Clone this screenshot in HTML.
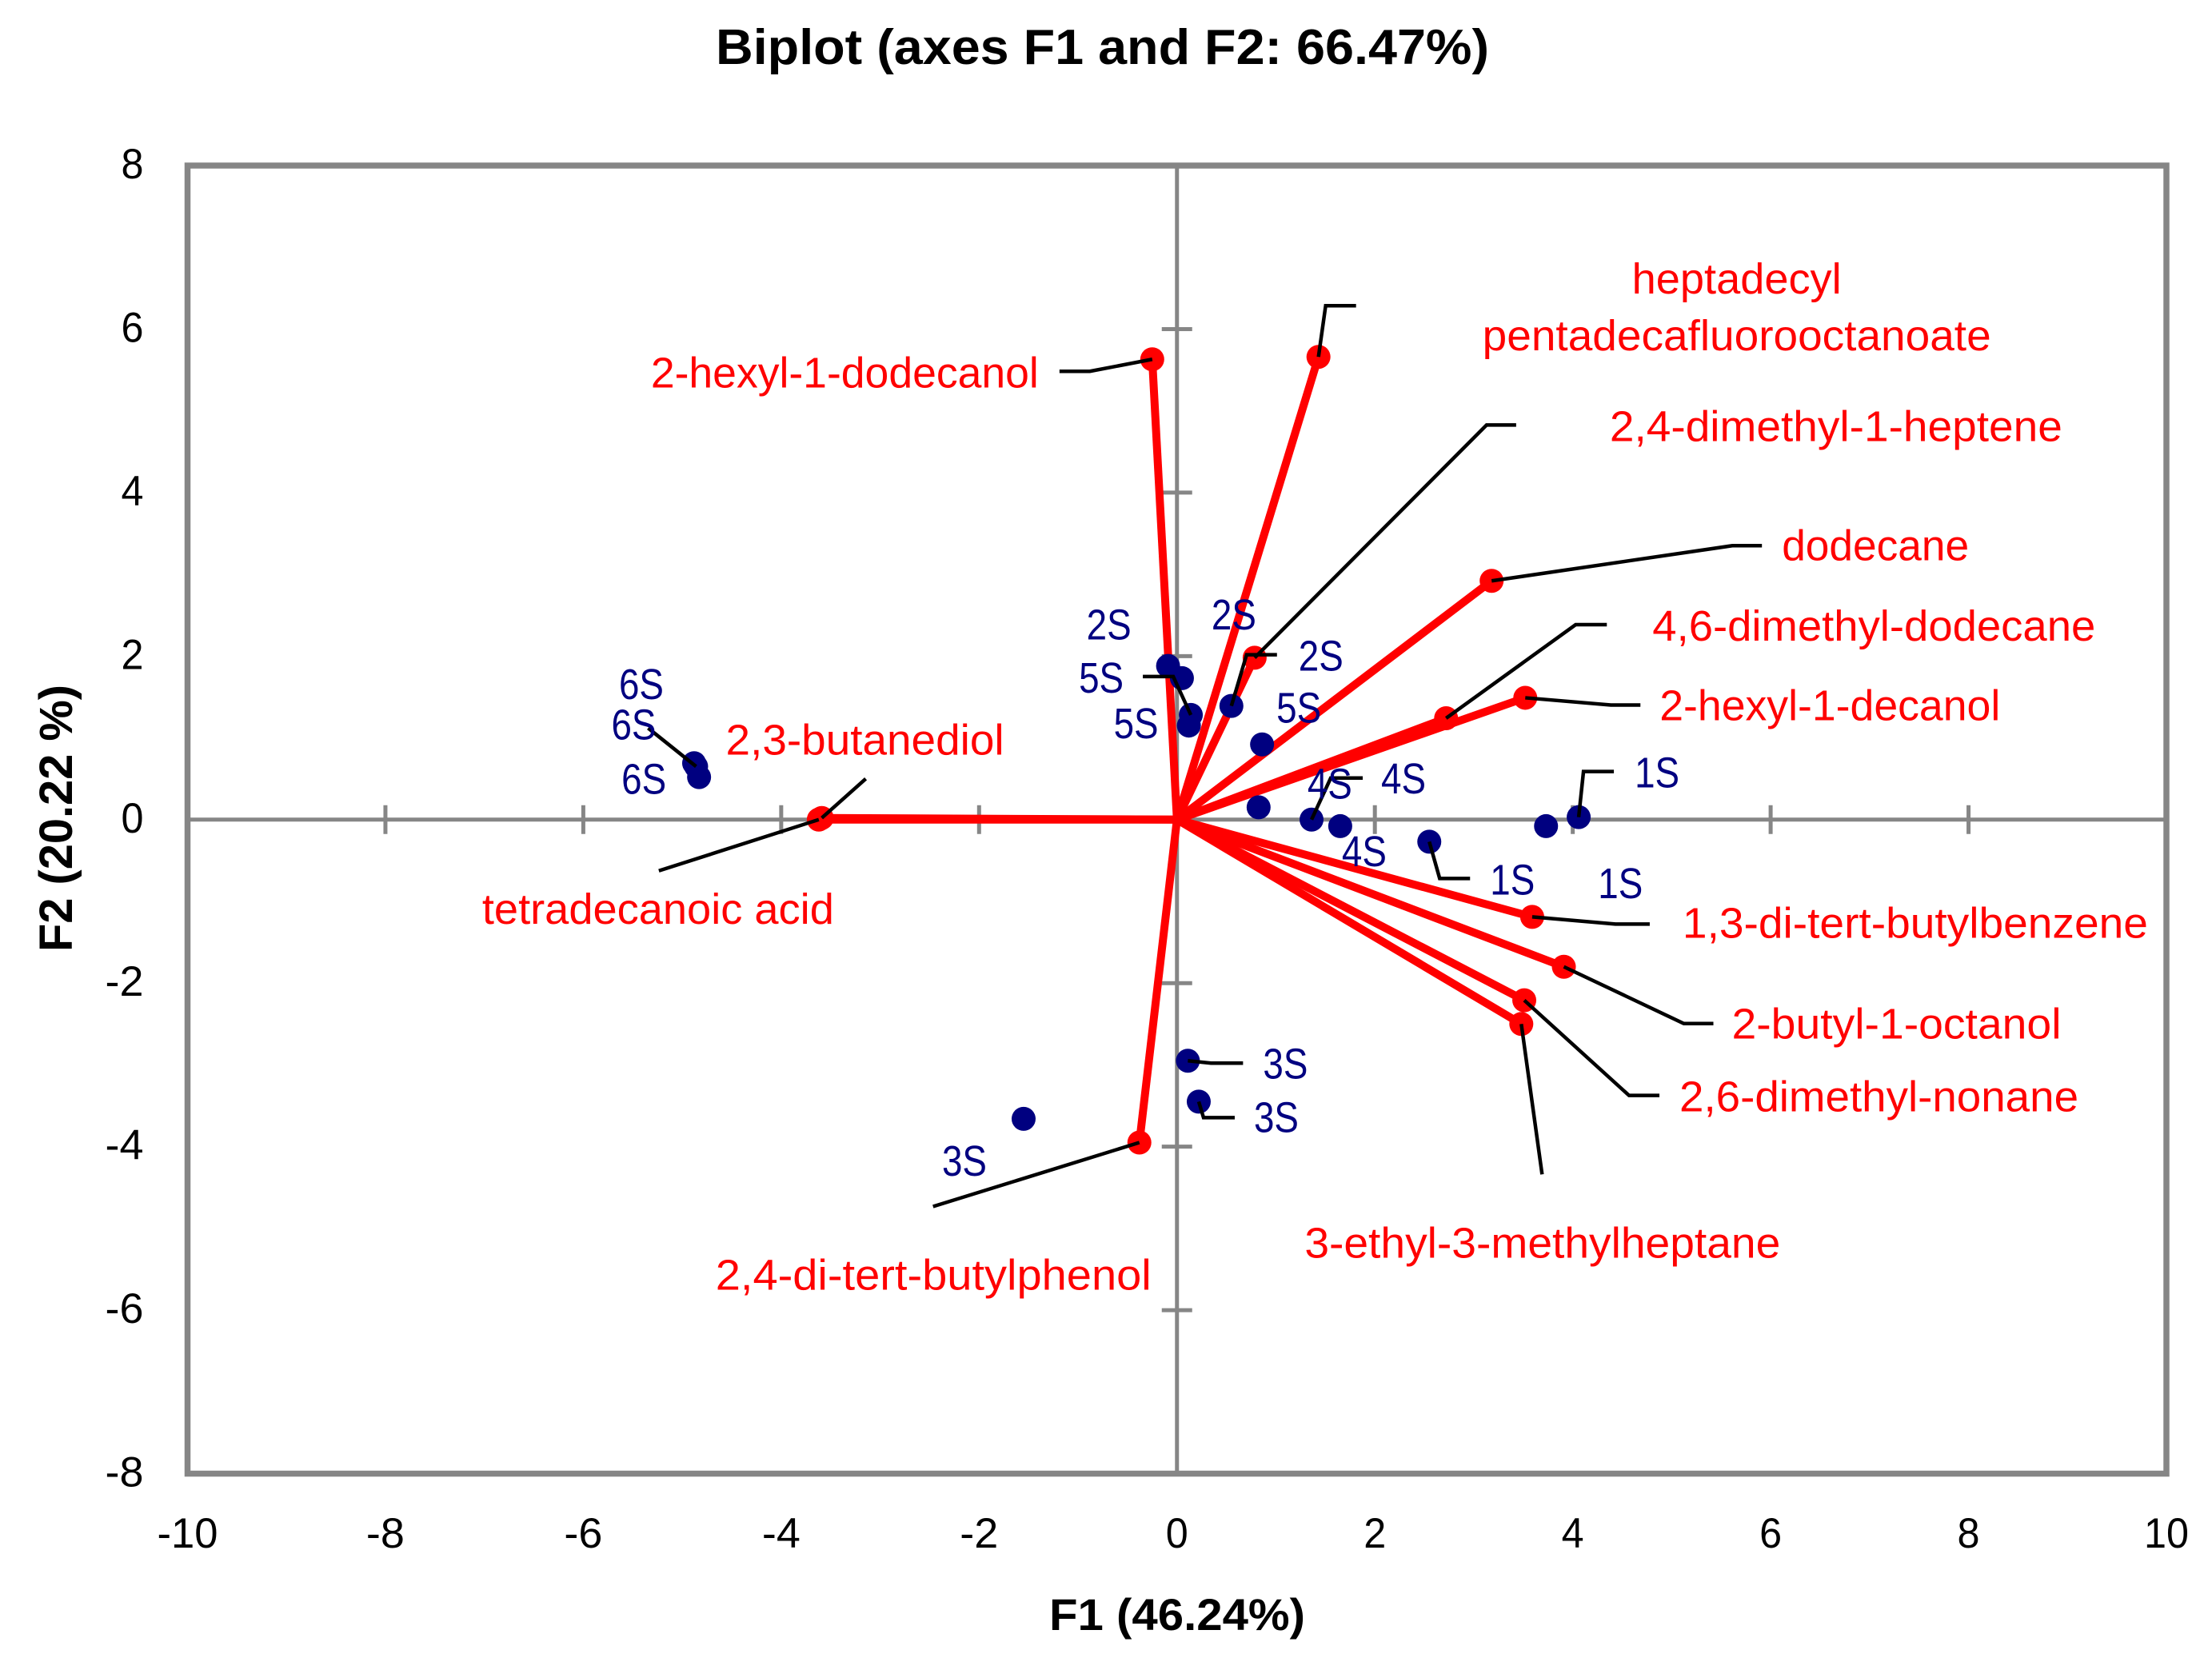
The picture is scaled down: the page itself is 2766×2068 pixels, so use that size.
<!DOCTYPE html>
<html lang="en">
<head>
<meta charset="utf-8">
<title>Biplot (axes F1 and F2: 66.47%)</title>
<style>
  html, body { margin: 0; padding: 0; background: #fff; }
  svg { display: block; font-family: "Liberation Sans", Arial, sans-serif; }
</style>
</head>
<body>
<svg id="chart" xmlns="http://www.w3.org/2000/svg" width="2766" height="2068" viewBox="0 0 2766 2068">
  <rect x="0" y="0" width="2766" height="2068" fill="#ffffff"/>
  <text x="895" y="80" font-size="62" font-weight="bold" fill="#000" textLength="967" lengthAdjust="spacingAndGlyphs">Biplot (axes F1 and F2: 66.47%)</text>
  <text x="1312" y="2038" font-size="56" font-weight="bold" fill="#000" textLength="320" lengthAdjust="spacingAndGlyphs">F1 (46.24%)</text>
  <text x="0" y="0" transform="translate(90 1190) rotate(-90)" font-size="58" font-weight="bold" fill="#000" textLength="334" lengthAdjust="spacingAndGlyphs">F2 (20.22 %)</text>
  <g id="axes"></g>
  <g id="vectors"></g>
  <g id="samples"></g>
  <g id="leaders"></g>
  <g id="labels"></g>
</svg>
<script>
// ---- chart data ----
const xTicks = [-10, -8, -6, -4, -2, 0, 2, 4, 6, 8, 10];
const yTicks = [-8, -6, -4, -2, 0, 2, 4, 6, 8];

const variableNames = [
  "2-hexyl-1-dodecanol",
  "heptadecyl|pentadecafluorooctanoate",
  "2,4-dimethyl-1-heptene",
  "dodecane",
  "4,6-dimethyl-dodecane",
  "2-hexyl-1-decanol",
  "1,3-di-tert-butylbenzene",
  "2-butyl-1-octanol",
  "2,6-dimethyl-nonane",
  "3-ethyl-3-methylheptane",
  "2,4-di-tert-butylphenol",
  "2,3-butanediol",
  "tetradecanoic acid"
];
const variableF1 = [-0.25, 1.43, 0.785, 3.18, 2.72, 3.52, 3.59, 3.91, 3.51, 3.48, -0.38, -3.59, -3.62];
const variableF2 = [5.63, 5.66, 1.98, 2.92, 1.24, 1.49, -1.19, -1.80, -2.21, -2.50, -3.95, 0.02, 0.00];

const sampleNames = ["6S", "6S", "6S", "2S", "2S", "2S", "5S", "5S", "5S", "4S", "4S", "4S", "1S", "1S", "1S", "3S", "3S", "3S"];
const sampleF1 = [-4.88, -4.86, -4.83, -0.09, 0.05, 0.55, 0.14, 0.12, 0.86, 0.825, 1.36, 1.65, 2.55, 3.73, 4.06, 0.11, 0.22, -1.55];
const sampleF2 = [0.69, 0.65, 0.52, 1.88, 1.73, 1.39, 1.28, 1.15, 0.92, 0.15, 0.00, -0.08, -0.27, -0.08, 0.03, -2.95, -3.45, -3.66];

// ---- layout (label and leader offsets relative to each mark, in px) ----
const variableLayout = [
  { leader: [[-78, 15], [-116, 15]], lines: [[-625, 35, 481]] },
  { leader: [[9, -64], [47, -64]], lines: [[394, -79, 258], [207, -8, 632]] },
  { leader: [[290, -291], [327, -291]], lines: [[446, -271, 562]] },
  { leader: [[301, -44], [338, -44]], lines: [[365, -26, 230]] },
  { leader: [[162, -117], [201, -117]], lines: [[260, -97, 550]] },
  { leader: [[107, 9], [144, 9]], lines: [[170, 28, 422]] },
  { leader: [[104, 9], [147, 9]], lines: [[190, 26, 578]] },
  { leader: [[150, 71], [187, 71]], lines: [[212, 90, 408]] },
  { leader: [[131, 119], [169, 119]], lines: [[196, 139, 495]] },
  { leader: [[26, 188]], lines: [[-269, 292, 591]] },
  { leader: [[-258, 80]], lines: [[-528, 184, 541]] },
  { leader: [[55, -49]], lines: [[-118, -79, 344]] },
  { leader: [[-200, 64]], lines: [[-419, 130, 436]] }
];
const sampleLayout = [
  { label: [-92, -80], leader: [] },
  { label: [-104, -34], leader: [[-60, -48]] },
  { label: [-95, 21], leader: [] },
  { label: [-100, -33], leader: [] },
  { label: [39, -61], leader: [] },
  { label: [86, -44], leader: [[19, -64], [57, -64]] },
  { label: [-138, -28], leader: [[-22, -48], [-60, -48]] },
  { label: [-92, 16], leader: [] },
  { label: [20, -27], leader: [] },
  { label: [63, -11], leader: [] },
  { label: [89, -33], leader: [[24, -52], [64, -52]] },
  { label: [4, 50], leader: [] },
  { label: [78, 66], leader: [[13, 46], [51, 46]] },
  { label: [67, 90], leader: [] },
  { label: [72, -37], leader: [[6, -57], [44, -57]] },
  { label: [96, 22], leader: [[29, 3], [69, 3]] },
  { label: [71, 38], leader: [[6, 20], [45, 20]] },
  { label: [-100, 71], leader: [] }
];

// ---- axis functions ----
const plotLeft = 234.5, plotRight = 2709, plotTop = 207, plotBottom = 1842.5;
const xMin = xTicks[0], xMax = xTicks[xTicks.length - 1];
const yMin = yTicks[0], yMax = yTicks[yTicks.length - 1];
function xScale(v) { return plotLeft + (v - xMin) / (xMax - xMin) * (plotRight - plotLeft); }
function yScale(v) { return plotBottom - (v - yMin) / (yMax - yMin) * (plotBottom - plotTop); }

const NS = "http://www.w3.org/2000/svg";
function make(tag, parentId, props) {
  const el = document.createElementNS(NS, tag);
  for (const k in props) el.setAttribute(k, props[k]);
  document.getElementById(parentId).appendChild(el);
  return el;
}
function tickWidth(v) {
  return String(Math.abs(v)).length * 28 + (v < 0 ? 20 : 0);
}
const GRAY = "#868686", RED = "#ff0000", NAVY = "#000080";

// ---- axes ----
xTicks.forEach(function (v) {
  const t = make("line", "axes", { x1: xScale(v), x2: xScale(v), y1: yScale(0) - 18, y2: yScale(0) + 18, stroke: GRAY, "stroke-width": 5 });
  
  
  const lab = make("text", "axes", { x: xScale(v), y: 1935, "font-size": 53, "text-anchor": "middle", fill: "#000", textLength: tickWidth(v), lengthAdjust: "spacingAndGlyphs" });
  lab.textContent = String(v);
  
  
});
yTicks.forEach(function (v) {
  const t = make("line", "axes", { x1: xScale(0) - 19, x2: xScale(0) + 19, y1: yScale(v), y2: yScale(v), stroke: GRAY, "stroke-width": 5 });
  
  
  const lab = make("text", "axes", { x: 179.5, y: yScale(v) + 16, "font-size": 53, "text-anchor": "end", fill: "#000", textLength: tickWidth(v), lengthAdjust: "spacingAndGlyphs" });
  lab.textContent = String(v);
  
  
});
const xAxisLine = make("line", "axes", { x1: plotLeft, x2: plotRight, y1: yScale(0), y2: yScale(0), stroke: GRAY, "stroke-width": 5 });


const yAxisLine = make("line", "axes", { x1: xScale(0), x2: xScale(0), y1: plotTop, y2: plotBottom, stroke: GRAY, "stroke-width": 5 });


const frame = make("rect", "axes", { x: plotLeft, y: plotTop, width: plotRight - plotLeft, height: plotBottom - plotTop, fill: "none", stroke: GRAY, "stroke-width": 7.5 });



// ---- helpers for leaders ----
function drawLeader(mx, my, offsets) {
  const pts = [[mx, my]].concat(offsets.map(function (o) { return [mx + o[0], my + o[1]]; }));
  const pl = make("polyline", "leaders", { points: pts.map(function (p) { return p.join(","); }).join(" "), fill: "none", stroke: "#000", "stroke-width": 4.5, "stroke-linejoin": "miter" });
  
  
}

// ---- variable vectors ----
variableNames.forEach(function (name, i) {
  const mx = xScale(variableF1[i]), my = yScale(variableF2[i]);
  const vec = make("line", "vectors", { x1: xScale(0), y1: yScale(0), x2: mx, y2: my, stroke: RED, "stroke-width": 10 });
  
  
  const dot = make("circle", "vectors", { cx: mx, cy: my, r: 15, fill: RED });
  
  
  drawLeader(mx, my, variableLayout[i].leader);
  name.split("|").forEach(function (part, j) {
    const L = variableLayout[i].lines[j];
    const t = make("text", "labels", { x: mx + L[0] - 2, y: my + L[1], "font-size": 54, fill: RED, textLength: L[2] + 4, lengthAdjust: "spacingAndGlyphs" });
    t.textContent = part;
    
    
  });
});

// ---- sample points ----
sampleNames.forEach(function (name, i) {
  const mx = xScale(sampleF1[i]), my = yScale(sampleF2[i]);
  const dot = make("circle", "samples", { cx: mx, cy: my, r: 15, fill: NAVY });
  
  
  if (sampleLayout[i].leader.length) drawLeader(mx, my, sampleLayout[i].leader);
  const t = make("text", "labels", { x: mx + sampleLayout[i].label[0] - 2, y: my + sampleLayout[i].label[1], "font-size": 54, fill: NAVY, textLength: 56, lengthAdjust: "spacingAndGlyphs" });
  t.textContent = name;
  
  
});
</script>
</body>
</html>
